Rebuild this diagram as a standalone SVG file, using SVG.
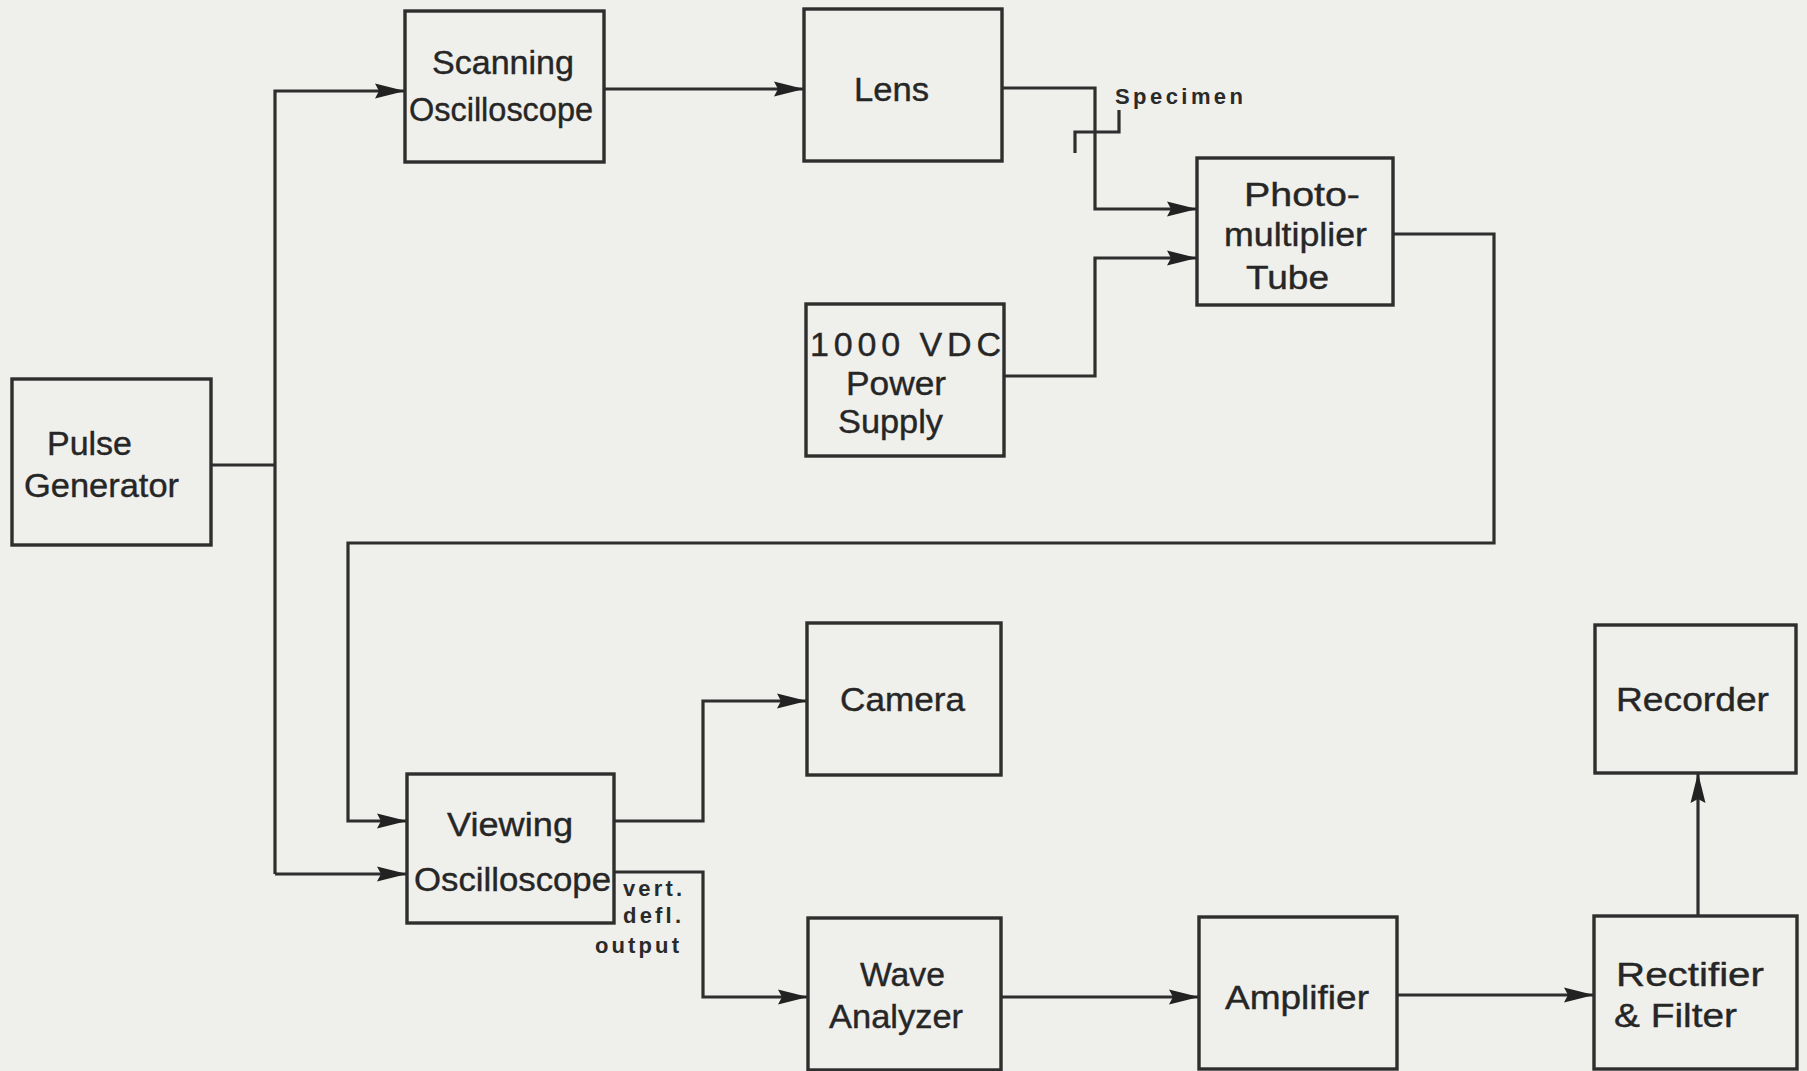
<svg xmlns="http://www.w3.org/2000/svg" width="1807" height="1071" viewBox="0 0 1807 1071">
<style>
.box{fill:none;stroke:#2e2e2e;stroke-width:3.4}
.wire{fill:none;stroke:#2e2e2e;stroke-width:3.2}
.lbl{font-family:"Liberation Sans",Arial,sans-serif;font-size:34px;fill:#262626;stroke:#262626;stroke-width:0.4}
.small{font-family:"Liberation Sans",Arial,sans-serif;font-size:22px;font-weight:bold;fill:#2a2a2a}
</style>
<defs>
<marker id="arr" markerUnits="userSpaceOnUse" markerWidth="30" markerHeight="18" viewBox="0 0 30 18" refX="30" refY="9" orient="auto">
<path d="M0,1.5 L30,9 L0,16.5 L4,9 z" fill="#222"/>
</marker>
</defs>
<rect width="1807" height="1071" fill="#efefeb"/>

<g id="connectors">
<path class="wire" d="M211,465 H275"/>
<path class="wire" d="M275,874 V91 H405" marker-end="url(#arr)"/>
<path class="wire" d="M275,874 H407" marker-end="url(#arr)"/>
<path class="wire" d="M604,89 H804" marker-end="url(#arr)"/>
<path class="wire" d="M1002,88 H1095 V209 H1197" marker-end="url(#arr)"/>
<path class="wire" d="M1004,376 H1095 V258 H1197" marker-end="url(#arr)"/>
<path class="wire" d="M1393,234 H1494 V543 H348 V821 H407" marker-end="url(#arr)"/>
<path class="wire" d="M614,821 H703 V701 H807" marker-end="url(#arr)"/>
<path class="wire" d="M614,872 H703 V997 H808" marker-end="url(#arr)"/>
<path class="wire" d="M1001,997 H1199" marker-end="url(#arr)"/>
<path class="wire" d="M1397,995 H1594" marker-end="url(#arr)"/>
<path class="wire" d="M1698,916 V773" marker-end="url(#arr)"/>
</g>

<g id="specimen">
<path class="wire" d="M1119,110 V132 H1075 V153"/>
<text class="small" x="1115" y="104" font-size="24" textLength="128" lengthAdjust="spacing">Specimen</text>
</g>

<g id="vert-defl-output">
<text class="small" x="623" y="896" textLength="59" lengthAdjust="spacing">vert.</text>
<text class="small" x="623" y="923" textLength="58" lengthAdjust="spacing">defl.</text>
<text class="small" x="595" y="953" textLength="84" lengthAdjust="spacing">output</text>
</g>

<g id="pulse-generator">
<rect class="box" x="12" y="379" width="199" height="166"/>
<text class="lbl" x="47" y="455" textLength="85" lengthAdjust="spacingAndGlyphs">Pulse</text>
<text class="lbl" x="24" y="497" textLength="155" lengthAdjust="spacingAndGlyphs">Generator</text>
</g>

<g id="scanning-oscilloscope">
<rect class="box" x="405" y="11" width="199" height="151"/>
<text class="lbl" x="432" y="74" textLength="142" lengthAdjust="spacingAndGlyphs">Scanning</text>
<text class="lbl" x="409" y="121" textLength="184" lengthAdjust="spacingAndGlyphs">Oscilloscope</text>
</g>

<g id="lens">
<rect class="box" x="804" y="9" width="198" height="152"/>
<text class="lbl" x="854" y="101" textLength="75" lengthAdjust="spacingAndGlyphs">Lens</text>
</g>

<g id="power-supply">
<rect class="box" x="806" y="304" width="198" height="152"/>
<text class="lbl" x="810" y="356" textLength="191" lengthAdjust="spacing">1000 VDC</text>
<text class="lbl" x="846" y="395" textLength="100" lengthAdjust="spacingAndGlyphs">Power</text>
<text class="lbl" x="838" y="433" textLength="105" lengthAdjust="spacingAndGlyphs">Supply</text>
</g>

<g id="photomultiplier-tube">
<rect class="box" x="1197" y="158" width="196" height="147"/>
<text class="lbl" x="1244" y="206" textLength="116" lengthAdjust="spacingAndGlyphs">Photo-</text>
<text class="lbl" x="1224" y="246" textLength="143" lengthAdjust="spacingAndGlyphs">multiplier</text>
<text class="lbl" x="1246" y="289" textLength="83" lengthAdjust="spacingAndGlyphs">Tube</text>
</g>

<g id="camera">
<rect class="box" x="807" y="623" width="194" height="152"/>
<text class="lbl" x="840" y="711" textLength="125" lengthAdjust="spacingAndGlyphs">Camera</text>
</g>

<g id="viewing-oscilloscope">
<rect class="box" x="407" y="774" width="207" height="149"/>
<text class="lbl" x="447" y="836" textLength="126" lengthAdjust="spacingAndGlyphs">Viewing</text>
<text class="lbl" x="414" y="891" textLength="197" lengthAdjust="spacingAndGlyphs">Oscilloscope</text>
</g>

<g id="recorder">
<rect class="box" x="1595" y="625" width="201" height="148"/>
<text class="lbl" x="1616" y="711" textLength="153" lengthAdjust="spacingAndGlyphs">Recorder</text>
</g>

<g id="wave-analyzer">
<rect class="box" x="808" y="918" width="193" height="152"/>
<text class="lbl" x="860" y="986" textLength="85" lengthAdjust="spacingAndGlyphs">Wave</text>
<text class="lbl" x="829" y="1028" textLength="134" lengthAdjust="spacingAndGlyphs">Analyzer</text>
</g>

<g id="amplifier">
<rect class="box" x="1199" y="917" width="198" height="152"/>
<text class="lbl" x="1225" y="1009" textLength="144" lengthAdjust="spacingAndGlyphs">Amplifier</text>
</g>

<g id="rectifier-filter">
<rect class="box" x="1594" y="916" width="203" height="153"/>
<text class="lbl" x="1616" y="986" textLength="148" lengthAdjust="spacingAndGlyphs">Rectifier</text>
<text class="lbl" x="1614" y="1027" textLength="123" lengthAdjust="spacingAndGlyphs">&amp; Filter</text>
</g>
</svg>
